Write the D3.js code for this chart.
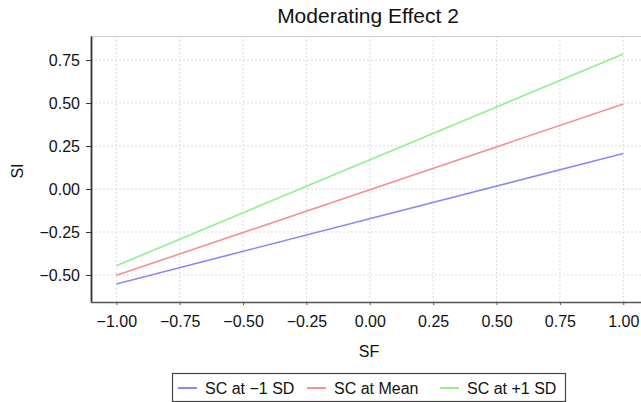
<!DOCTYPE html>
<html>
<head>
<meta charset="utf-8">
<script src="https://cdn.jsdelivr.net/npm/d3@7"></script>
<style>
  body { margin: 0; background: #fff; }
  svg { font-family: "Liberation Sans", Arial, sans-serif; }
  .grid line { stroke: #dcdcdc; stroke-dasharray: 2,2; }
</style>
</head>
<body>
<script>
// 数据
const seriesNames = ['SC at \u22121 SD', 'SC at Mean', 'SC at +1 SD'];
const seriesColors = ['#8a8af5', '#f59090', '#90ee90'];
const sfValues = [-1, 1];
const lowSD = [-0.552, 0.207];
const meanSC = [-0.502, 0.494];
const highSD = [-0.446, 0.785];
const xTicks = [-1, -0.75, -0.5, -0.25, 0, 0.25, 0.5, 0.75, 1];
const yTicks = [-0.5, -0.25, 0, 0.25, 0.5, 0.75];

const width = 641, height = 402;
const margin = { top: 36, right: 0, bottom: 100, left: 91 };

const svg = d3.select('body').append('svg')
    .attr('width', width)
    .attr('height', height);

const xScale = d3.scaleLinear().domain([-1.1, 1.07]).range([margin.left, width - margin.right]);
const yScale = d3.scaleLinear().domain([-0.657, 0.89]).range([height - margin.bottom, margin.top]);

const fmt = v => d3.format('.2f')(v).replace('-', '\u2212');

// 网格
svg.append('g').attr('class', 'grid')
    .selectAll('line.v').data(xTicks).enter().append('line')
    .attr('x1', d => xScale(d)).attr('x2', d => xScale(d))
    .attr('y1', margin.top).attr('y2', height - margin.bottom);
svg.append('g').attr('class', 'grid')
    .selectAll('line.h').data(yTicks).enter().append('line')
    .attr('x1', margin.left).attr('x2', width - margin.right)
    .attr('y1', d => yScale(d)).attr('y2', d => yScale(d));

// 上边框
svg.append('line')
    .attr('x1', margin.left).attr('x2', width)
    .attr('y1', margin.top + 0.5).attr('y2', margin.top + 0.5)
    .attr('stroke', '#cfcfcf');

// 线条
const series = [lowSD, meanSC, highSD];
const line = d3.line().x((d, i) => xScale(sfValues[i])).y(d => yScale(d));
series.forEach((s, i) => {
    svg.append('path')
        .datum(s)
        .attr('d', line)
        .attr('fill', 'none')
        .attr('stroke', seriesColors[i])
        .attr('stroke-width', 1.6);
});

// 坐标轴
const xAxis = svg.append('g')
    .attr('transform', `translate(0,${height - margin.bottom})`)
    .call(d3.axisBottom(xScale).tickValues(xTicks).tickFormat(fmt).tickSize(3).tickSizeOuter(0));
xAxis.select('.domain').attr('stroke', '#555').attr('stroke-width', 1.5);
xAxis.selectAll('.tick line').attr('stroke', '#555');
xAxis.selectAll('text').attr('font-size', 16).attr('fill', '#111').attr('y', 14).attr('dy', '0.71em');

const yAxis = svg.append('g')
    .attr('transform', `translate(${margin.left},0)`)
    .call(d3.axisLeft(yScale).tickValues(yTicks).tickFormat(fmt).tickSize(5).tickSizeOuter(0));
yAxis.select('.domain').attr('stroke', '#333').attr('stroke-width', 1.8);
yAxis.selectAll('.tick line').attr('stroke', '#333');
yAxis.selectAll('text').attr('font-size', 16).attr('fill', '#111').attr('x', -11);

// 标题和轴标签
svg.append('text')
    .attr('x', 368).attr('y', 23)
    .attr('text-anchor', 'middle')
    .attr('font-size', 21)
    .attr('fill', '#111')
    .text('Moderating Effect 2');

svg.append('text')
    .attr('x', 369).attr('y', 357)
    .attr('text-anchor', 'middle')
    .attr('font-size', 16)
    .attr('fill', '#111')
    .text('SF');

svg.append('text')
    .attr('transform', 'translate(23,171) rotate(-90)')
    .attr('text-anchor', 'middle')
    .attr('font-size', 16)
    .attr('fill', '#111')
    .text('SI');

// 图例
const legend = svg.append('g').attr('transform', 'translate(172,373)');
legend.append('rect')
    .attr('x', 0.5).attr('y', 0.5)
    .attr('width', 393).attr('height', 28)
    .attr('fill', '#fff')
    .attr('stroke', '#444')
    .attr('stroke-width', 1.2);
const legendX = [6, 135, 268];
seriesNames.forEach((d, i) => {
    legend.append('line')
        .attr('x1', legendX[i]).attr('x2', legendX[i] + 19)
        .attr('y1', 15).attr('y2', 15)
        .attr('stroke', seriesColors[i])
        .attr('stroke-width', 2);
    legend.append('text')
        .attr('x', legendX[i] + 27).attr('y', 15)
        .attr('dy', '0.35em')
        .attr('font-size', 16)
        .attr('fill', '#111')
        .text(d);
});
</script>
</body>
</html>
